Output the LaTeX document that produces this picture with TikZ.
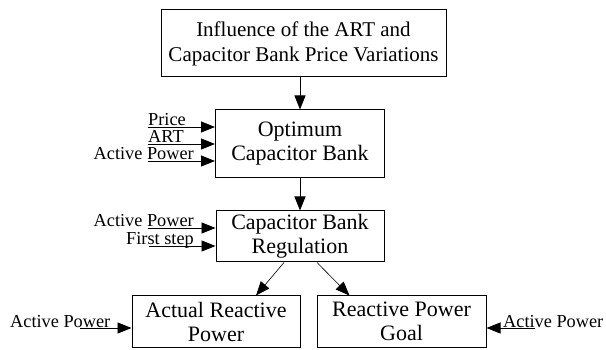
\documentclass[tikz,border=0pt]{standalone}
\usepackage{fontspec}
\setmainfont{Liberation Serif}
\usetikzlibrary{arrows.meta}
\tikzstyle{blockbox} = [draw=black, line width=1pt, fill=white,
    rectangle, align=center, inner sep=2pt, font=\fontsize{22}{24}\selectfont]
\tikzstyle{feed} = [line width=0.9pt, -{Triangle[length=14pt, width=11pt]}]
\tikzstyle{slant} = [line width=0.6pt, -{Triangle[length=14pt, width=11pt]}]
\tikzstyle{inlabel} = [inner sep=0pt, font=\fontsize{18.3}{20}\selectfont]

\begin{document}
\begin{tikzpicture}[x=1pt, y=-1pt]
    \useasboundingbox (0,0) rectangle (606,350);
    % blocks
    \node [blockbox, minimum width=285pt, minimum height=67pt,
        font=\fontsize{21}{25}\selectfont] (infl) at (303.5,43.5)
        {Influence of the ART and\\Capacitor Bank Price Variations};
    \node [blockbox, minimum width=169pt, minimum height=68pt] (optbank) at (300,144)
        {Optimum\\Capacitor Bank};
    \node [blockbox, minimum width=168pt, minimum height=51pt] (regul) at (300,236.5)
        {Capacitor Bank\\Regulation};
    \node [blockbox, minimum width=168pt, minimum height=51pt] (actual) at (216,321.5)
        {Actual Reactive\\Power};
    \node [blockbox, minimum width=169pt, minimum height=51pt] (goal) at (401.5,321.5)
        {Reactive Power\\Goal};
    % main flow
    \draw [feed] (infl.south -| optbank.north) -- (optbank.north);
    \draw [feed] (optbank.south) -- (regul.north);
    \draw [slant] ([xshift=-16pt]regul.south) -- ([xshift=40pt]actual.north);
    \draw [slant] ([xshift=17pt]regul.south) -- ([xshift=-52pt]goal.north);
    % inputs of the optimum bank
    \coordinate (price) at (148,127);
    \coordinate (art) at (148,144);
    \coordinate (power1) at (148,161);
    \draw [feed] (price) -- (price -| optbank.west);
    \draw [feed] (art) -- (art -| optbank.west);
    \draw [feed] (power1) -- (power1 -| optbank.west);
    \node [inlabel, anchor=base west] (pricetxt) at ([yshift=1pt]price) {Price};
    \node [inlabel, anchor=base west] (arttxt) at ([yshift=1pt]art) {ART};
    \node [inlabel, anchor=base east] (power1txt) at ([xshift=46pt, yshift=1pt]power1) {Active Power};
    % inputs of the regulation
    \coordinate (power2) at (148,228);
    \coordinate (first) at (149,246);
    \draw [feed] (power2) -- (power2 -| regul.west);
    \draw [feed] (first) -- (first -| regul.west);
    \node [inlabel, anchor=base east] (power2txt) at ([xshift=46pt, yshift=1pt]power2) {Active Power};
    \node [inlabel, anchor=base east] (firsttxt) at ([xshift=45pt, yshift=1pt]first) {First step};
    % inputs of the bottom blocks
    \coordinate (power3) at (80,328);
    \coordinate (power4) at (535,328);
    \draw [feed] (power3) -- (power3 -| actual.west);
    \draw [feed] (power4) -- (power4 -| goal.east);
    \node [inlabel, anchor=base west] (power3txt) at (10,327) {Active Power};
    \node [inlabel, anchor=base west] (power4txt) at (503,327) {Active Power};
\end{tikzpicture}
\end{document}
